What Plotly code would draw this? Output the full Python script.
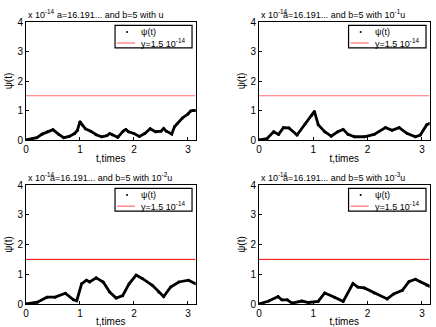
import plotly.graph_objects as go
from plotly.subplots import make_subplots

# ---- data (psi(t) in units of 1e-14) ----
t_u = [0.0, 0.1, 0.2, 0.3, 0.4, 0.5, 0.6, 0.7, 0.8, 0.9, 0.95, 1.0, 1.05, 1.1, 1.2, 1.3, 1.4,
       1.5, 1.55, 1.6, 1.7, 1.8, 1.85, 1.9, 2.0, 2.1, 2.2, 2.3, 2.4, 2.5, 2.55, 2.6, 2.7,
       2.75, 2.8, 2.9, 3.0, 3.05, 3.1, 3.14]
psi_u = [0.0, 0.03, 0.08, 0.2, 0.28, 0.35, 0.2, 0.08, 0.12, 0.22, 0.32, 0.62, 0.5, 0.38, 0.3,
         0.18, 0.11, 0.15, 0.22, 0.18, 0.09, 0.3, 0.36, 0.28, 0.22, 0.12, 0.22, 0.38, 0.28,
         0.3, 0.39, 0.3, 0.2, 0.45, 0.55, 0.75, 0.88, 0.98, 1.0, 1.0]

t_u1 = [0.0, 0.08, 0.15, 0.27, 0.36, 0.45, 0.55, 0.7, 0.85, 0.97, 1.02, 1.09, 1.21, 1.33, 1.45,
        1.55, 1.64, 1.76, 1.94, 2.12, 2.33, 2.45, 2.58, 2.73, 2.88, 2.97, 3.09, 3.14]
psi_u1 = [0.0, 0.02, 0.05, 0.28, 0.19, 0.42, 0.41, 0.17, 0.55, 0.83, 0.97, 0.52, 0.28, 0.13,
          0.28, 0.36, 0.19, 0.11, 0.11, 0.19, 0.42, 0.33, 0.42, 0.22, 0.11, 0.17, 0.52, 0.56]

t_u2 = [0.0, 0.21, 0.39, 0.54, 0.73, 0.88, 0.94, 1.03, 1.12, 1.18, 1.3, 1.43, 1.55, 1.67, 1.79,
        1.91, 2.04, 2.16, 2.34, 2.46, 2.55, 2.68, 2.83, 3.01, 3.14]
psi_u2 = [0.0, 0.06, 0.23, 0.23, 0.36, 0.14, 0.11, 0.68, 0.8, 0.74, 0.88, 0.74, 0.4, 0.2, 0.28,
          0.68, 0.97, 0.85, 0.63, 0.4, 0.25, 0.57, 0.74, 0.8, 0.68]

t_u3 = [0.0, 0.18, 0.35, 0.42, 0.52, 0.61, 0.79, 0.91, 1.09, 1.21, 1.39, 1.55, 1.73, 1.82, 1.94,
        2.12, 2.36, 2.48, 2.64, 2.76, 2.88, 2.97, 3.09, 3.14]
psi_u3 = [0.0, 0.1, 0.25, 0.14, 0.14, 0.03, 0.1, 0.05, 0.09, 0.37, 0.23, 0.09, 0.69, 0.57, 0.54,
          0.37, 0.17, 0.34, 0.46, 0.75, 0.83, 0.75, 0.63, 0.6]

threshold = 1.5
series = [(t_u, psi_u, "u"), (t_u1, psi_u1, "10<sup>-1</sup>u"),
          (t_u2, psi_u2, "10<sup>-2</sup>u"), (t_u3, psi_u3, "10<sup>-3</sup>u")]

FONT = "Liberation Sans, Arial, Helvetica, sans-serif"
W, H = 436, 327
xdoms = [(26 / W, 195.6 / W), (259 / W, 429.6 / W)]
ydoms = [(1 - 140 / H, 1 - 22 / H), (1 - 304 / H, 1 - 185 / H)]

fig = make_subplots(rows=2, cols=2)
annotations = []
shapes = []
for i, (t, psi, lab) in enumerate(series):
    r, c = i // 2 + 1, i % 2 + 1
    red = "#ff6f6f" if r == 1 else "#ff0000"
    rw = 1.2 if r == 1 else 1.0
    fig.add_trace(go.Scatter(x=t, y=psi, mode="lines+markers",
                             line=dict(color="black", width=2.8),
                             marker=dict(color="black", size=3),
                             showlegend=False), row=r, col=c)
    fig.add_trace(go.Scatter(x=[0, 3.1416], y=[threshold, threshold], mode="lines",
                             line=dict(color=red, width=rw), showlegend=False),
                  row=r, col=c)
    axn = "" if i == 0 else str(i + 1)
    xr, yr = f"x{axn} domain", f"y{axn} domain"
    fig.update_xaxes(domain=list(xdoms[c - 1]), row=r, col=c)
    fig.update_yaxes(domain=list(ydoms[r - 1]), row=r, col=c)
    # exponent + title
    annotations.append(dict(xref=xr, yref=yr, x=0, y=1, xanchor="left", yanchor="bottom",
                            text="x 10<sup>-14</sup>", showarrow=False,
                            font=dict(size=9, family=FONT, color="black")))
    annotations.append(dict(xref=xr, yref=yr, x=0.5, y=1, xanchor="center", yanchor="bottom",
                            text=f"a=16.191... and b=5 with {lab}", showarrow=False,
                            font=dict(size=9, family=FONT, color="black")))
    # legend box (manual)
    lx0, lx1, ly0, ly1 = 0.525, 0.979, 0.78, 0.972
    shapes.append(dict(type="rect", xref=xr, yref=yr, x0=lx0, x1=lx1, y0=ly0, y1=ly1,
                       line=dict(color="black", width=1.2), fillcolor="white", layer="above"))
    shapes.append(dict(type="circle", xref=xr, yref=yr, x0=0.59, x1=0.602, y0=0.907,
                       y1=0.924, line=dict(color="black", width=0), fillcolor="black",
                       layer="above"))
    shapes.append(dict(type="line", xref=xr, yref=yr, x0=0.537, x1=0.643, y0=0.822,
                       y1=0.822, line=dict(color="#ff6f6f", width=1.2), layer="above"))
    annotations.append(dict(xref=xr, yref=yr, x=0.666, y=0.915, xanchor="left",
                            yanchor="middle", text="\u03c8(t)", showarrow=False,
                            font=dict(size=9, family=FONT, color="black")))
    annotations.append(dict(xref=xr, yref=yr, x=0.666, y=0.822, xanchor="left",
                            yanchor="middle", text="y=1.5 10<sup>-14</sup>", showarrow=False,
                            font=dict(size=9, family=FONT, color="black")))

axis_common = dict(showline=True, mirror=True, linecolor="black", linewidth=1,
                   ticks="inside", ticklen=3, tickcolor="black", showgrid=False,
                   zeroline=False, tickfont=dict(size=10, family=FONT, color="black"),
                   automargin=False)
fig.update_xaxes(range=[0, 3.1416], tickvals=[0, 1, 2, 3], **axis_common,
                 title=dict(text="t,times", standoff=0,
                            font=dict(size=10, family=FONT, color="black")))
fig.update_yaxes(range=[0, 4], tickvals=[0, 1, 2, 3, 4], **axis_common,
                 title=dict(text="\u03c8(t)", standoff=2,
                            font=dict(size=10, family=FONT, color="black")))

fig.update_layout(width=W, height=H, margin=dict(l=0, r=0, t=0, b=0),
                  paper_bgcolor="white", plot_bgcolor="white",
                  annotations=annotations, shapes=shapes, showlegend=False,
                  font=dict(family=FONT, size=9, color="black"))
fig.write_html("out.html", config={"displayModeBar": False},
               post_script="document.body.style.margin='0';")
